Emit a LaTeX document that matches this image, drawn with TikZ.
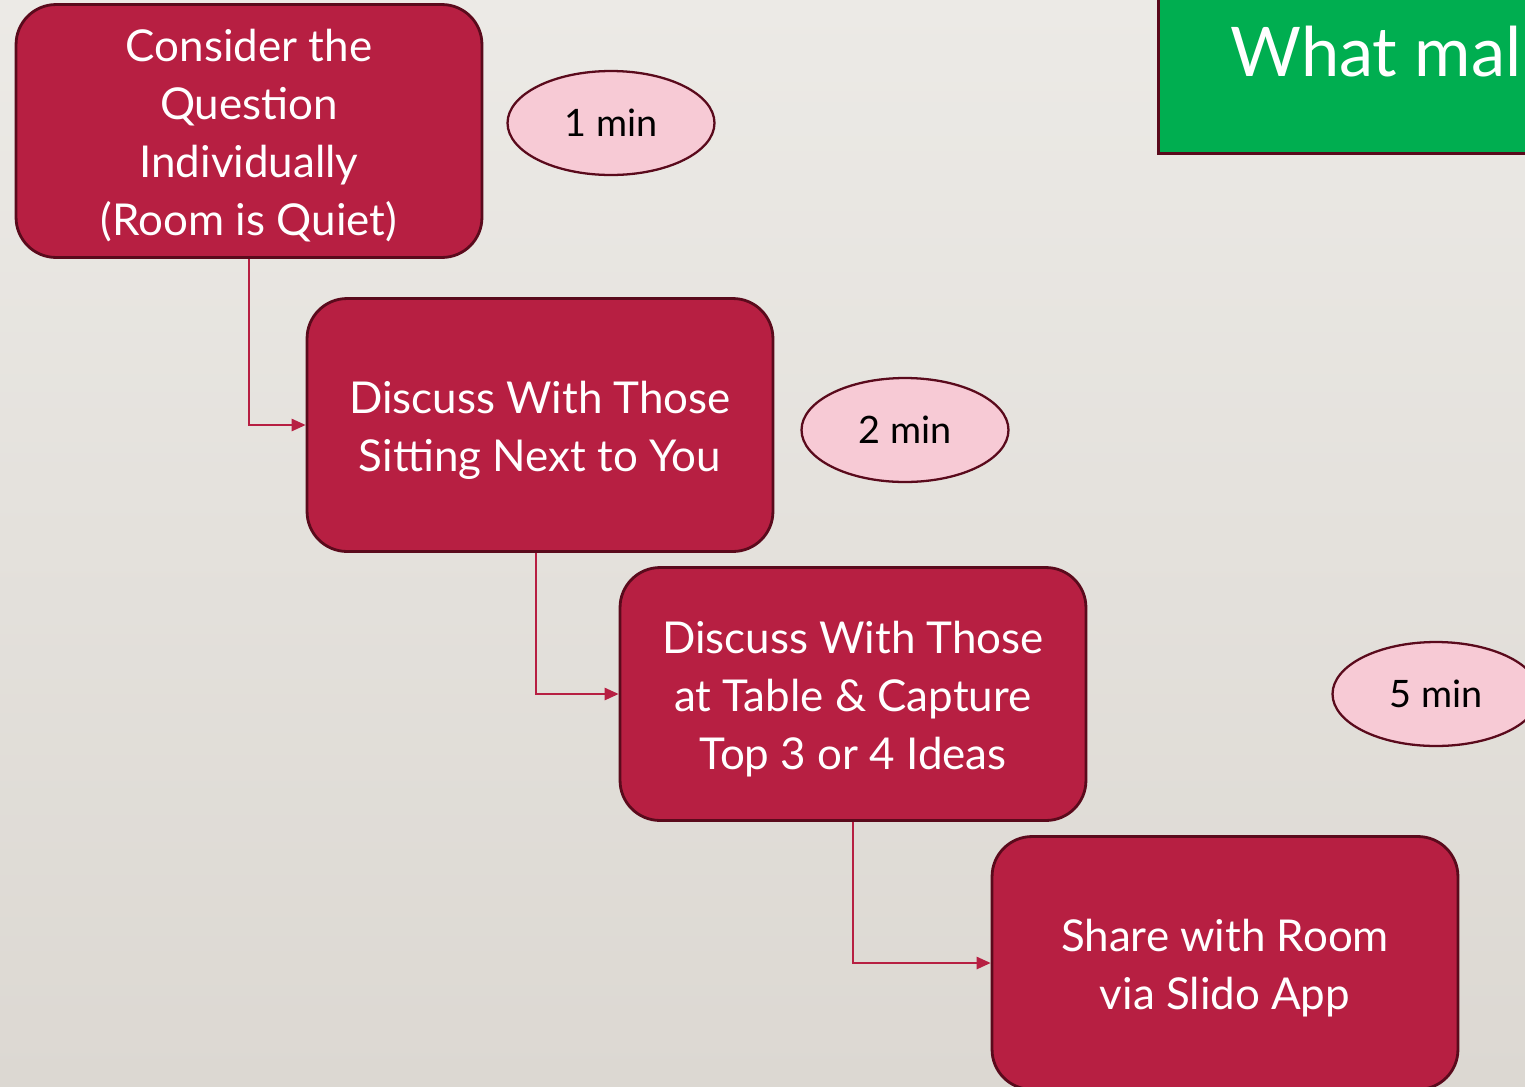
\documentclass[tikz,border=0pt]{standalone}
\usepackage{fontspec}
\setmainfont{Lato}
\usetikzlibrary{shapes.geometric,arrows.meta}
\definecolor{boxred}{HTML}{B71F42}
\definecolor{boxedge}{HTML}{5A0A1C}
\definecolor{pinkfill}{HTML}{F7CAD5}
\definecolor{titlegreen}{HTML}{00AE50}
\definecolor{bgtop}{HTML}{ECEAE6}
\definecolor{bgbot}{HTML}{DCD8D2}
\newcommand{\boxtext}[1]{\raisebox{-9.7pt}[0pt][0pt]{\begin{tabular}{@{}c@{}}#1\end{tabular}}}
\begin{document}
\begin{tikzpicture}[x=0.02cm,y=-0.02cm,
  stepbox/.style={draw=boxedge,line width=1.6pt,fill=boxred,rounded corners=0.8cm,
    minimum width=9.32cm,minimum height=5.06cm,text=white,
    font=\fontsize{25}{33}\selectfont,inner sep=0pt},
  timebox/.style={ellipse,draw=boxedge,line width=1.3pt,fill=pinkfill,
    minimum width=4.14cm,minimum height=2.08cm,inner sep=0pt,
    font=\fontsize{21.5}{25}\selectfont},
  link/.style={draw=boxred,line width=1.1pt,-{Triangle[length=8pt,width=7pt]}}]
\useasboundingbox (0,0) rectangle (1525,1086);
\clip (0,0) rectangle (1525,1086);
\shade[top color=bgtop,bottom color=bgbot] (0,0) rectangle (1525,1086);
% title box
\node[draw=boxedge,line width=1.6pt,fill=titlegreen,minimum width=8cm,minimum height=3.2cm,anchor=north west,inner sep=0pt] (title) at (1157,-8) {};
\node[anchor=base west,text=white,font=\fontsize{39}{46}\selectfont,inner sep=0pt] (titletext) at (1230,76) {What mal};
% steps
\node[stepbox] (s1) at (249,131) {\boxtext{Consider the\\Question\\Individually\\(Room is Quiet)}};
\node[stepbox] (s2) at (540,425) {\boxtext{Discuss With Those\\Sitting Next to You}};
\node[stepbox] (s3) at (853,694) {\boxtext{Discuss With Those\\at Table \& Capture\\Top 3 or 4 Ideas}};
\node[stepbox] (s4) at (1225,963) {\boxtext{Share with Room\\via Slido App}};
% times
\node[timebox] (t1) at (611,123) {1 min};
\node[timebox] (t2) at (905,430) {2 min};
\node[timebox] (t3) at (1436,694) {5 min};
% connectors
\draw[link] (s1.south) |- (s2.west);
\draw[link] (s2.south -| 536,0) |- (s3.west);
\draw[link] (s3.south) |- (s4.west);
\end{tikzpicture}
\end{document}
